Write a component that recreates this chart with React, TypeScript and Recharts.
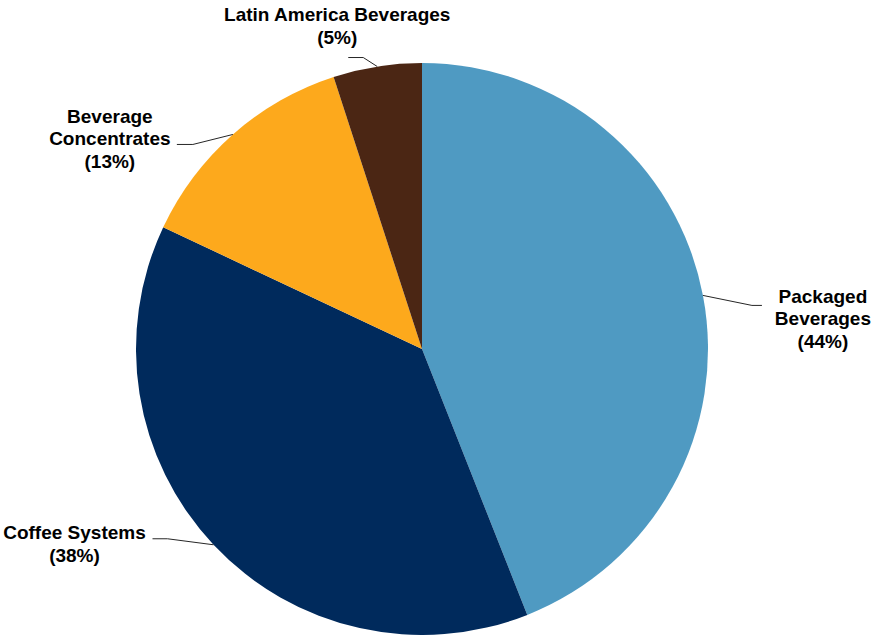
import { PieChart, Pie, Cell } from "recharts";

const SEGMENTS = ["Packaged Beverages", "Coffee Systems", "Beverage Concentrates", "Latin America Beverages"];
const SHARES = [44, 38, 13, 5];
const COLORS = ["#4F9AC2", "#002A5C", "#FDA91C", "#4B2614"];

// how each label wraps, and where its leader line / text sits relative to the slice edge
const LABEL_LINES: Record<string, string[]> = {
  "Packaged Beverages": ["Packaged", "Beverages"],
  "Coffee Systems": ["Coffee Systems"],
  "Beverage Concentrates": ["Beverage", "Concentrates"],
  "Latin America Beverages": ["Latin America Beverages"],
};

const LABEL_LAYOUT: Record<string, { elbow: [number, number]; tail: number; text: [number, number] }> = {
  "Packaged Beverages": { elbow: [49, 10], tail: 10, text: [61, -9] },
  "Coffee Systems": { elbow: [-46, -6], tail: -15, text: [-78, -6] },
  "Beverage Concentrates": { elbow: [-40, 10], tail: -16, text: [-67, -28] },
  "Latin America Beverages": { elbow: [-14, -9], tail: -15, text: [-11, -43] },
};

const RAD = Math.PI / 180;
const LINE_H = 22.5;

const chartData = SEGMENTS.map((name, i) => ({ name, value: SHARES[i] }));

function renderLabel(props: any) {
  const { cx, cy, midAngle, outerRadius, name, percent } = props;
  const layout = LABEL_LAYOUT[name];
  const ex = cx + outerRadius * Math.cos(-midAngle * RAD);
  const ey = cy + outerRadius * Math.sin(-midAngle * RAD);
  const bx = ex + layout.elbow[0];
  const by = ey + layout.elbow[1];
  const tx = bx + layout.tail;
  const lines = [...LABEL_LINES[name], `(${Math.round(percent * 100)}%)`];
  const textX = tx + layout.text[0];
  const textY = by + layout.text[1];
  return (
    <g>
      <path d={`M${ex},${ey}L${bx},${by}L${tx},${by}`} stroke="#262626" strokeWidth={1} fill="none" />
      <text
        x={textX}
        y={textY}
        textAnchor="middle"
        fill="#000"
        fontSize={19}
        fontWeight="bold"
        fontFamily="'Liberation Sans', Arial, sans-serif"
      >
        {lines.map((l, i) => (
          <tspan key={i} x={textX} y={textY + i * LINE_H} dominantBaseline="central">
            {l}
          </tspan>
        ))}
      </text>
    </g>
  );
}

export default function App() {
  return (
    <div style={{ position: "absolute", left: 0, top: 0, background: "#fff" }}>
      <PieChart width={874} height={635} margin={{ top: 0, right: 0, bottom: 0, left: 0 }}>
        <Pie
          data={chartData}
          dataKey="value"
          nameKey="name"
          cx={422}
          cy={349}
          outerRadius={286}
          startAngle={90}
          endAngle={-270}
          stroke="none"
          label={renderLabel}
          labelLine={false}
          isAnimationActive={false}
        >
          {chartData.map((_, i) => (
            <Cell key={i} fill={COLORS[i]} />
          ))}
        </Pie>
      </PieChart>
    </div>
  );
}
